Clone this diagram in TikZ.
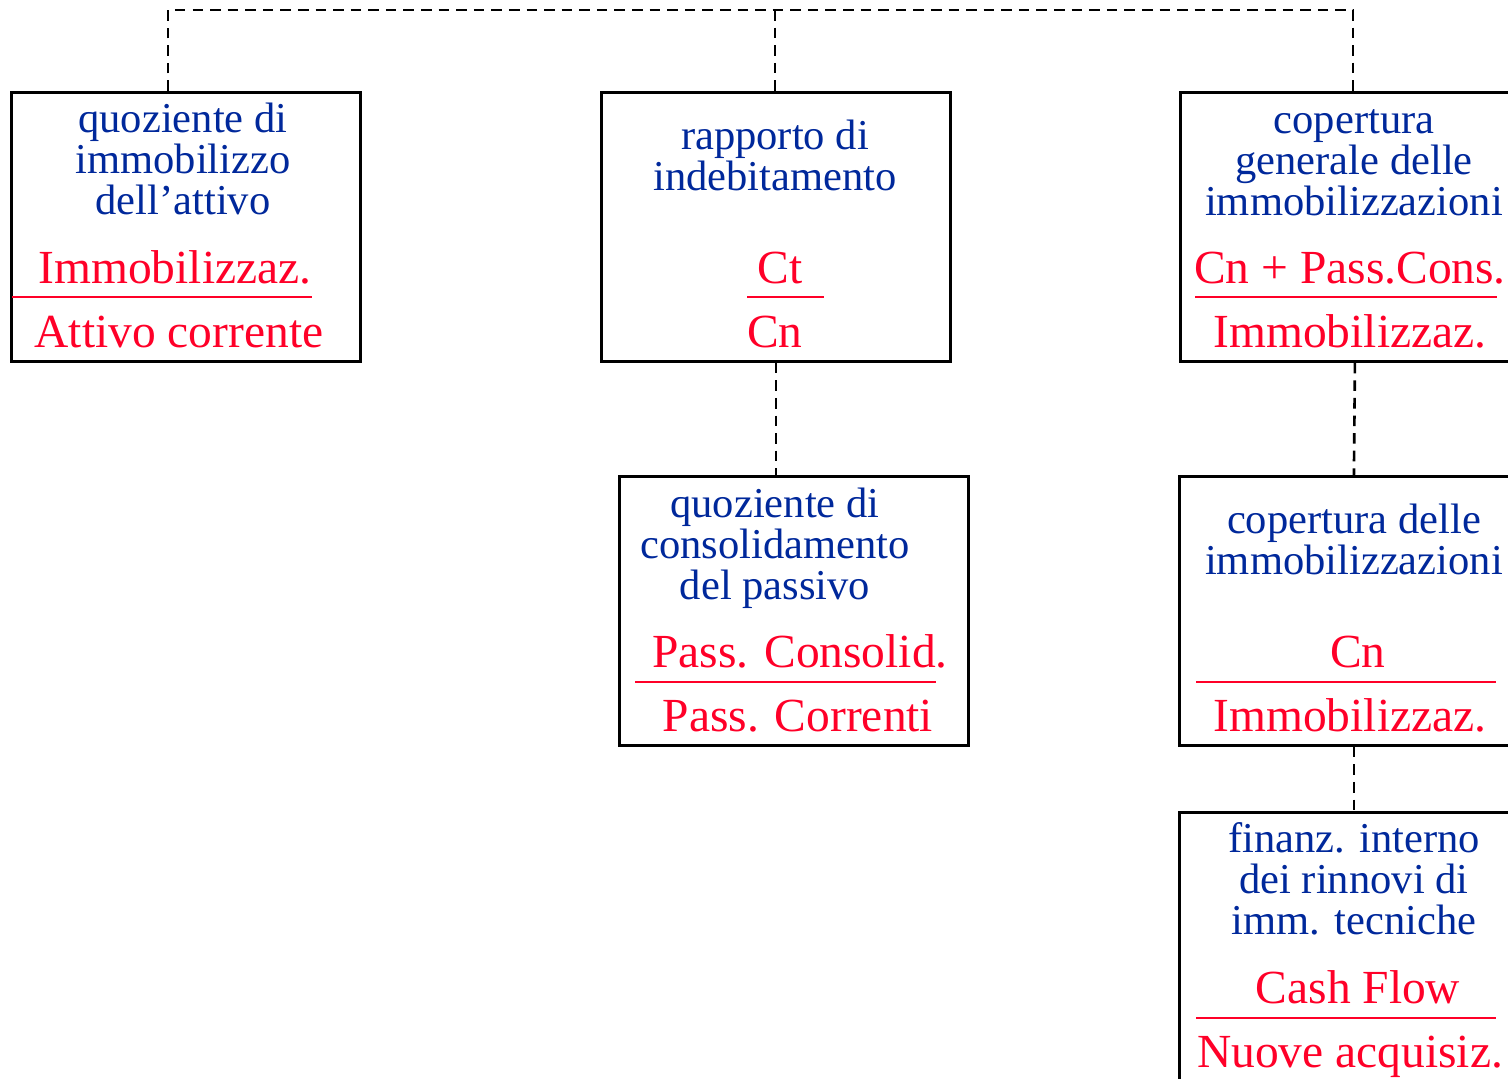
\documentclass[tikz,border=0pt]{standalone}
\usepackage{fontspec}
\setmainfont{Liberation Serif}
\definecolor{titleblue}{RGB}{0,40,155}
\definecolor{ratiored}{RGB}{255,0,40}
\begin{document}
\begin{tikzpicture}[x=0.01cm,y=-0.01cm,
		indexbox/.style={draw,line width=0.75pt,minimum width=3.49cm,minimum height=2.69cm,inner sep=0pt,anchor=north west},
		title/.style={text=titleblue,align=center,inner sep=0pt,anchor=base,font=\fontsize{12.1}{11.65}\selectfont},
		ratio/.style={text=ratiored,inner sep=0pt,anchor=base,font=\fontsize{13.5}{14}\selectfont},
		bar/.style={ratiored,line width=0.8pt},
		link/.style={line width=0.75pt,dash pattern=on 3pt off 2pt}]
		\useasboundingbox (0,0) rectangle (1508,1078);

		% boxes
		\node[indexbox] (b1) at (10,91) {};
		\node[indexbox] (b2) at (600,91) {};
		\node[indexbox] (b3) at (1179,91) {};
		\node[indexbox] (b4) at (618,475) {};
		\node[indexbox] (b5) at (1178,475) {};
		\node[indexbox] (b6) at (1178,811) {};

		% quoziente di immobilizzo
		\node[title] (t1) at (183,214) {quoziente di\\immobilizzo\\dell'attivo};
		\node[ratio] (n1) at (175,283) {Immobilizzaz.};
		\node[ratio] (d1) at (179,347) {Attivo corrente};
		\draw[bar] (12,297) -- (312,297);

		% rapporto di indebitamento
		\node[title] (t2) at (775,190) {rapporto di\\indebitamento};
		\node[ratio] (n2) at (780,283) {Ct};
		\node[ratio] (d2) at (775,347) {Cn};
		\draw[bar] (747,297) -- (824,297);

		% copertura generale
		\node[title] (t3) at (1354,215) {copertura\\generale delle\\immobilizzazioni};
		\node[ratio] (n3) at (1350,283) {Cn + Pass.Cons.};
		\node[ratio] (d3) at (1350,347) {Immobilizzaz.};
		\draw[bar] (1195,297) -- (1497,297);

		% quoziente di consolidamento
		\node[title] (t4) at (775,599) {quoziente di\\consolidamento\\del passivo};
		\node[ratio] (n4) at (800,667) {Pass. Consolid.};
		\node[ratio] (d4) at (798,731) {Pass. Correnti};
		\draw[bar] (635,682) -- (936,682);

		% copertura delle immobilizzazioni
		\node[title] (t5) at (1354,574) {copertura delle\\immobilizzazioni};
		\node[ratio] (n5) at (1358,667) {Cn};
		\node[ratio] (d5) at (1350,731) {Immobilizzaz.};
		\draw[bar] (1196,682) -- (1496,682);

		% finanziamento interno
		\node[title] (t6) at (1354,934) {finanz. interno\\dei rinnovi di\\imm. tecniche};
		\node[ratio] (n6) at (1358,1003) {Cash Flow};
		\node[ratio] (d6) at (1350,1067) {Nuove acquisiz.};
		\draw[bar] (1196,1018) -- (1496,1018);

		% dashed links
		\coordinate (j1) at (168,10);
		\coordinate (j2) at (775,10);
		\coordinate (j3) at (1353,10);
		\draw[link] (j1 |- b1.north) -- (j1) -- (j3) -- (j3 |- b3.north);
		\draw[link] (j2) -- (j2 |- b2.north);
		\draw[link] (b2.south) -- (b2.south |- b4.north);
		\draw[link] (b3.south) -- (b5.north);
		\draw[link] (b5.south) -- (b6.north);
	\end{tikzpicture}
\end{document}
